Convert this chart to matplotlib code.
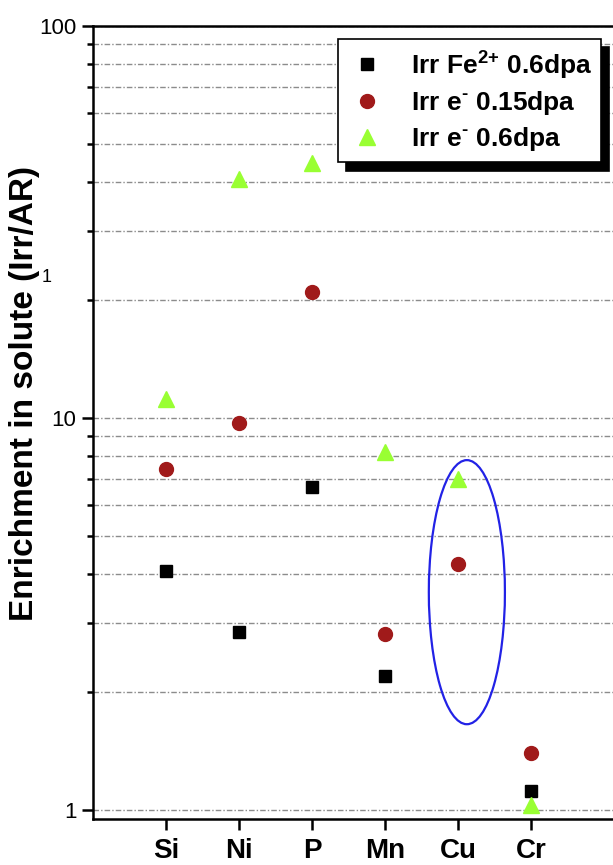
import numpy as np
import matplotlib.pyplot as plt
from matplotlib.patches import Ellipse
from matplotlib.ticker import LogLocator, NullFormatter, FixedFormatter, FixedLocator

plt.rcParams['font.family'] = ['Liberation Sans', 'DejaVu Sans']
plt.rcParams['mathtext.fontset'] = 'custom'
plt.rcParams['mathtext.rm'] = 'Liberation Sans:bold'
plt.rcParams['mathtext.bf'] = 'Liberation Sans:bold'

elements = ['Si', 'Ni', 'P', 'Mn', 'Cu', 'Cr']
irr_fe_06 = [4.07, 2.85, 6.67, 2.20, np.nan, 1.12]
irr_e_015 = [7.41, 9.71, 20.9, 2.81, 4.24, 1.40]
irr_e_06 = [11.2, 40.7, 44.7, 8.19, 6.99, 1.03]

x = np.arange(1, len(elements) + 1)

fig = plt.figure(figsize=(6.13, 8.65), dpi=100)
ax = fig.add_axes([0.1517, 0.0532, 0.893, 0.9168])

ax.plot(x, irr_fe_06, 's', color='black', markersize=8.5, label=r'Irr Fe$^{\mathbf{2{+}}}$ 0.6dpa', zorder=4)
ax.plot(x, irr_e_015, 'o', color='#a01a1a', markersize=10, label=r'Irr e$^{\text{-}}$ 0.15dpa', zorder=4)
ax.plot(x, irr_e_06, '^', color='#99ff33', markersize=12, label=r'Irr e$^{\text{-}}$ 0.6dpa', zorder=4)

ax.set_yscale('log')
ax.set_ylim(0.948, 100)
ax.set_xlim(0, 7.5)

ax.yaxis.set_major_locator(FixedLocator([1, 10, 100]))
ax.yaxis.set_major_formatter(FixedFormatter(['1', '10', '100']))
ax.yaxis.set_minor_locator(LogLocator(base=10, subs=np.arange(2, 10)))
ax.yaxis.set_minor_formatter(NullFormatter())
ax.grid(True, which='both', axis='y', color='#8c8c8c', linewidth=1.0,
        linestyle=(0, (4, 1.5, 1, 1.5)), zorder=1)

ax.set_xticks(x)
ax.set_xticklabels(elements, fontsize=20, fontweight='bold')
ax.tick_params(axis='x', direction='out', length=8, width=1.8, pad=6)
ax.tick_params(axis='y', which='major', direction='out', length=8, width=1.8, labelsize=16, pad=4)
ax.tick_params(axis='y', which='minor', direction='out', length=4, width=1.8)

for s in ['left', 'bottom', 'top', 'right']:
    ax.spines[s].set_linewidth(1.8)

ax.set_ylabel('Enrichment in solute (Irr/AR)', fontsize=24, fontweight='bold')
ax.yaxis.set_label_coords(-0.097, 0.537)

ax.add_patch(Ellipse((0.683, 0.286), 0.139, 0.333, transform=ax.transAxes,
                     fill=False, edgecolor='#2222e6', linewidth=1.6, zorder=5))

leg = ax.legend(loc='upper left', bbox_to_anchor=(338 / 613, 1 - 39 / 865),
                bbox_transform=fig.transFigure, borderaxespad=0, fancybox=False,
                framealpha=1, edgecolor='black', prop={'size': 19, 'weight': 'bold'},
                handletextpad=0.9, labelspacing=0.3, borderpad=0.35,
                handlelength=1.5,
                shadow={'color': 'black', 'alpha': 1, 'ox': 6, 'oy': -6})
leg.get_frame().set_linewidth(1.2)

fig.text(47 / 613, 1 - 277 / 865, '1', fontsize=13, ha='center', va='center')

fig.savefig('out.png', dpi=100)
